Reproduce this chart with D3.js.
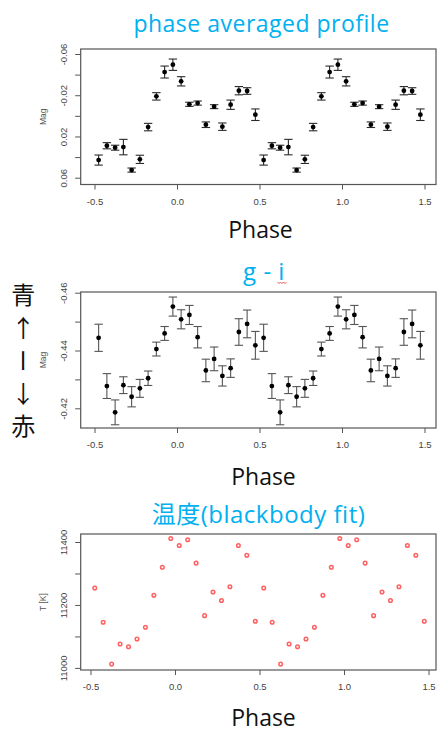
<!DOCTYPE html>
<html>
<head>
<meta charset="utf-8">
<script src="https://cdn.jsdelivr.net/npm/d3@7"></script>
<style>
  body { margin: 0; background: #fff; }
  svg { display: block; }
</style>
</head>
<body>
<script>
// Phase-folded light curve, g-i colour and blackbody temperature (two cycles shown)
const phase = [
  -0.475, -0.425, -0.375, -0.325, -0.275, -0.225, -0.175, -0.125, -0.075, -0.025,
   0.025,  0.075,  0.125,  0.175,  0.225,  0.275,  0.325,  0.375,  0.425,  0.475,
   0.525,  0.575,  0.625,  0.675,  0.725,  0.775,  0.825,  0.875,  0.925,  0.975,
   1.025,  1.075,  1.125,  1.175,  1.225,  1.275,  1.325,  1.375,  1.425,  1.475
];

const magMean = [
   0.0429,  0.0290,  0.0309,  0.0303,  0.0526,  0.0422,  0.0109, -0.0189, -0.0425, -0.0496,
  -0.0335, -0.0112, -0.0124,  0.0086, -0.0089,  0.0105, -0.0108, -0.0244, -0.0241, -0.0011,
   0.0429,  0.0290,  0.0309,  0.0303,  0.0526,  0.0422,  0.0109, -0.0189, -0.0425, -0.0496,
  -0.0335, -0.0112, -0.0124,  0.0086, -0.0089,  0.0105, -0.0108, -0.0244, -0.0241, -0.0011
];
const magErr = [
  0.0049, 0.0030, 0.0024, 0.0075, 0.0020, 0.0040, 0.0036, 0.0036, 0.0058, 0.0055,
  0.0045, 0.0020, 0.0020, 0.0027, 0.0019, 0.0036, 0.0045, 0.0040, 0.0032, 0.0056,
  0.0049, 0.0030, 0.0024, 0.0075, 0.0020, 0.0040, 0.0036, 0.0036, 0.0058, 0.0055,
  0.0045, 0.0020, 0.0020, 0.0027, 0.0019, 0.0036, 0.0045, 0.0040, 0.0032, 0.0056
];

const giMean = [
  -0.4444, -0.4277, -0.4186, -0.4280, -0.4240, -0.4269, -0.4304, -0.4405, -0.4459, -0.4552,
  -0.4508, -0.4523, -0.4446, -0.4331, -0.4371, -0.4312, -0.4339, -0.4464, -0.4492, -0.4418,
  -0.4444, -0.4277, -0.4186, -0.4280, -0.4240, -0.4269, -0.4304, -0.4405, -0.4459, -0.4552,
  -0.4508, -0.4523, -0.4446, -0.4331, -0.4371, -0.4312, -0.4339, -0.4464, -0.4492, -0.4418
];
const giErr = [
  0.0047, 0.0043, 0.0043, 0.0029, 0.0035, 0.0031, 0.0025, 0.0024, 0.0024, 0.0033,
  0.0033, 0.0033, 0.0037, 0.0039, 0.0041, 0.0035, 0.0032, 0.0046, 0.0048, 0.0048,
  0.0047, 0.0043, 0.0043, 0.0029, 0.0035, 0.0031, 0.0025, 0.0024, 0.0024, 0.0033,
  0.0033, 0.0033, 0.0037, 0.0039, 0.0041, 0.0035, 0.0032, 0.0046, 0.0048, 0.0048
];

const tempK = [
  11254, 11145, 11012, 11076, 11067, 11092, 11129, 11231, 11320, 11411,
  11389, 11407, 11333, 11166, 11241, 11214, 11258, 11389, 11358, 11148,
  11254, 11145, 11012, 11076, 11067, 11092, 11129, 11231, 11320, 11411,
  11389, 11407, 11333, 11166, 11241, 11214, 11258, 11389, 11358, 11148
];

const phaseTicks = [-0.5, 0, 0.5, 1, 1.5];
const phaseTickLabels = ["-0.5", "0.0", "0.5", "1.0", "1.5"];
const magTicks = [-0.06, -0.04, -0.02, 0, 0.02, 0.04, 0.06];
const magTickLabels = ["-0.06", "", "-0.02", "", "0.02", "", "0.06"];
const giTicks = [-0.46, -0.45, -0.44, -0.43, -0.42];
const giTickLabels = ["-0.46", "", "-0.44", "", "-0.42"];
const tempTicks = [11000, 11100, 11200, 11300, 11400];
const tempTickLabels = ["11000", "", "11200", "", "11400"];

const W = 437, H = 733;
const svg = d3.select("body").append("svg").attr("width", W).attr("height", H);

const tickFont = "'Liberation Sans', Arial, sans-serif";
const slideFont = "'Open Sans', 'Noto Sans CJK JP', sans-serif";
const titleBlue = "#00b0f0";

function panel(opt) {
  const x = d3.scaleLinear().domain([-0.5, 1.5]).range(opt.xRange);
  const y = d3.scaleLinear().domain(opt.yDomain).range(opt.yRange);
  const g = svg.append("g");

  // x axis
  const xa = g.append("g")
    .attr("transform", `translate(0,${opt.box[3]})`)
    .call(d3.axisBottom(x).tickValues(phaseTicks)
      .tickFormat((d, i) => phaseTickLabels[i]).tickSize(5).tickPadding(8.6));
  // y axis
  const ya = g.append("g")
    .attr("transform", `translate(${opt.box[0]},0)`)
    .call(d3.axisLeft(y).tickValues(opt.yTicks)
      .tickFormat((d, i) => opt.yTickLabels[i]).tickSize(5.5));
  [xa, ya].forEach(a => {
    a.select(".domain").remove();
    a.selectAll("line").attr("stroke", "#555").attr("stroke-width", 1);
    a.selectAll("text").attr("font-family", tickFont).attr("font-size", 9.5).attr("fill", "#444");
  });
  ya.selectAll("text")
    .attr("x", null).attr("dy", null)
    .attr("transform", "translate(-17.4,0) rotate(-90)")
    .attr("text-anchor", "middle")
    .attr("dominant-baseline", "central");

  // frame
  g.append("rect")
    .attr("x", opt.box[0]).attr("y", opt.box[1])
    .attr("width", opt.box[2] - opt.box[0]).attr("height", opt.box[3] - opt.box[1])
    .attr("fill", "none").attr("stroke", "#555").attr("stroke-width", 1.2);

  // axis title
  g.append("text")
    .attr("transform", `translate(42.6,${(opt.box[1] + opt.box[3]) / 2}) rotate(-90)`)
    .attr("text-anchor", "middle").attr("dominant-baseline", "central")
    .attr("font-family", tickFont).attr("font-size", 8.5).attr("fill", "#555")
    .text(opt.yLabel);

  // slide title and x label
  g.append("text")
    .attr("x", opt.titlePos[0]).attr("y", opt.titlePos[1])
    .attr("text-anchor", "middle")
    .attr("font-family", slideFont).attr("font-size", opt.titleSize)
    .attr("letter-spacing", 0.5).attr("fill", titleBlue)
    .text(opt.title);
  g.append("text")
    .attr("x", opt.phasePos[0]).attr("y", opt.phasePos[1])
    .attr("text-anchor", "middle")
    .attr("font-family", slideFont).attr("font-size", 23).attr("fill", "#111")
    .text("Phase");

  return { g, x, y };
}

function errorBars(p, vals, errs, color) {
  const cap = 4.2;
  const eb = p.g.append("g").attr("stroke", color).attr("stroke-width", 1.1).attr("fill", "none");
  phase.forEach((ph, i) => {
    const cx = p.x(ph), lo = p.y(vals[i] - errs[i]), hi = p.y(vals[i] + errs[i]);
    eb.append("line").attr("x1", cx).attr("x2", cx).attr("y1", lo).attr("y2", hi);
    eb.append("line").attr("x1", cx - cap).attr("x2", cx + cap).attr("y1", lo).attr("y2", lo);
    eb.append("line").attr("x1", cx - cap).attr("x2", cx + cap).attr("y1", hi).attr("y2", hi);
  });
  p.g.append("g").selectAll("circle").data(phase).join("circle")
    .attr("cx", d => p.x(d)).attr("cy", (d, i) => p.y(vals[i]))
    .attr("r", 2.4).attr("fill", "#000");
}

// Panel 1: phase averaged magnitude
const p1 = panel({
  box: [80.7, 49, 436, 184.5],
  xRange: [94.5, 424.5],
  yDomain: [-0.06, 0.06], yRange: [54, 177.7],
  yTicks: magTicks, yTickLabels: magTickLabels,
  yLabel: "Mag",
  title: "phase averaged profile", titleSize: 23, titlePos: [261.5, 31.5],
  phasePos: [260.5, 238.3]
});
errorBars(p1, magMean, magErr, "#2a2a2a");

// Panel 2: g - i colour
const p2 = panel({
  box: [80.7, 292, 436, 428],
  xRange: [94.5, 424.5],
  yDomain: [-0.46, -0.42], yRange: [292.7, 408.3],
  yTicks: giTicks, yTickLabels: giTickLabels,
  yLabel: "Mag",
  title: "g - i", titleSize: 24, titlePos: [264, 279.5],
  phasePos: [263.5, 484.5]
});
errorBars(p2, giMean, giErr, "#555");

// spell-check squiggle under the "i"
p2.g.append("path")
  .attr("d", d3.line()([[277.5, 282], [279, 283.6], [280.5, 282], [282, 283.6], [283.5, 282], [285, 283.6], [286.5, 282]]))
  .attr("fill", "none").attr("stroke", "#e03a3a").attr("stroke-width", 0.8);

// blue / red direction marker beside the colour panel, set in vertical writing
const sideMark = "青↑ー↓赤";
svg.append("text")
  .attr("x", 23.3).attr("y", 283)
  .style("writing-mode", "vertical-rl")
  .style("text-orientation", "upright")
  .attr("font-family", "'Noto Sans CJK JP', sans-serif")
  .attr("font-size", 24).attr("letter-spacing", 8.8).attr("fill", "#111")
  .text(sideMark);

// Panel 3: blackbody temperature
const p3 = panel({
  box: [80.7, 534, 436, 670],
  xRange: [90.5, 428.5],
  yDomain: [11000, 11400], yRange: [667.9, 542],
  yTicks: tempTicks, yTickLabels: tempTickLabels,
  yLabel: "T [K]",
  title: "温度(blackbody fit)", titleSize: 24, titlePos: [258.5, 522.5],
  phasePos: [263.5, 726]
});
p3.g.append("g").selectAll("circle").data(phase).join("circle")
  .attr("cx", d => p3.x(d)).attr("cy", (d, i) => p3.y(tempK[i]))
  .attr("r", 1.8).attr("fill", "none").attr("stroke", "#ff6161").attr("stroke-width", 1.5);
</script>
</body>
</html>
